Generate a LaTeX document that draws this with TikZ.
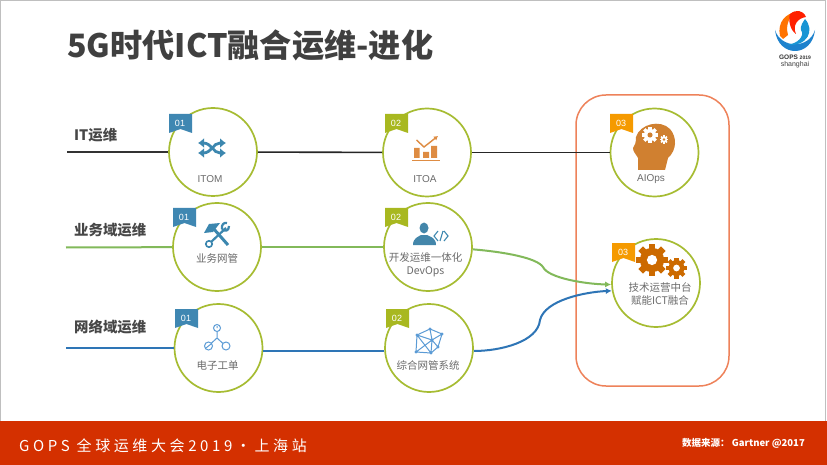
\documentclass[tikz,border=0pt]{standalone}
\usepackage{fontspec}
\setmainfont{Noto Sans CJK SC}
\newfontfamily\latinfont{Liberation Sans}
\usetikzlibrary{arrows.meta}
\definecolor{bandred}{RGB}{212, 48, 0}
\definecolor{ringgreen}{RGB}{166, 188, 50}
\definecolor{flagblue}{RGB}{63, 135, 178}
\definecolor{flaggreen}{RGB}{168, 184, 32}
\definecolor{flagorange}{RGB}{245, 154, 0}
\definecolor{lineblue}{RGB}{46, 117, 182}
\definecolor{linegreen}{RGB}{130, 185, 90}
\definecolor{iconblue}{RGB}{60, 135, 175}
\definecolor{iconlight}{RGB}{91, 155, 213}
\definecolor{iconorange}{RGB}{222, 140, 67}
\definecolor{headorange}{RGB}{208, 128, 48}
\definecolor{gearorange}{RGB}{204, 106, 0}
\definecolor{framered}{RGB}{238, 130, 90}
\definecolor{logoblue}{RGB}{30, 130, 205}
\tikzset{
  stage/.style={circle, draw=ringgreen, line width=1.7pt, fill=white, minimum size=88pt, inner sep=0pt},
  rowlabel/.style={anchor=west, inner sep=0pt, font=\bfseries\fontsize{14.4}{16}\selectfont, text=black!72},
  tag/.style={font=\fontsize{10.5}{13.5}\selectfont, text=black!58, align=center, inner sep=0pt},
  latintag/.style={tag, font=\latinfont\fontsize{10}{12}\selectfont},
  flagnum/.style={font=\latinfont\fontsize{9}{10}\selectfont, text=white, inner sep=0pt},
  rowline/.style={line width=2pt}
}
% flag: name, left x, top y, colour, number
\newcommand{\flagmark}[5]{
  \fill[#4] (#2,#3) -- (#2+23,#3) -- (#2+23,#3+19) -- (#2+11.5,#3+15) -- (#2,#3+19) -- cycle;
  \node[flagnum] (#1) at (#2+11,#3+9) {#5};
}
% gear: x, y, radius, tooth colour, hole colour
\newcommand{\gearicon}[5]{
  \fill[#4] (#1,#2) circle (#3*0.76);
  \foreach \a in {0,45,...,315}
    \fill[#4, rotate around={\a:(#1,#2)}] (#1-#3*0.2,#2-#3) rectangle (#1+#3*0.2,#2);
  \fill[#5] (#1,#2) circle (#3*0.32);
}
\begin{document}
\begin{tikzpicture}[x=1pt,y=-1pt]
  \useasboundingbox (0,0) rectangle (827,465);
  \fill[white] (0,0) rectangle (827,465);
  % Page edge and band
  \draw[black!25, line width=1pt] (0.5,465) -- (0.5,0.5) -- (825.5,0.5) -- (825.5,421);
  \fill[bandred] (0,421) rectangle (827,465);
  \node[anchor=west, inner sep=0pt, text=white, font=\fontsize{15}{16}\selectfont] (bandtext) at (19,446) {\addfontfeature{LetterSpace=24}GOPS 全球运维大会2019·上海站};
  \node[anchor=east, inner sep=0pt, text=white, font=\bfseries\fontsize{9.5}{11}\selectfont] (source) at (805,443) {数据来源： Gartner @2017};
  % Title
  \node[anchor=west, inner sep=0pt, text=black!75, font=\bfseries\fontsize{32.2}{36}\selectfont] (title) at (67,45) {5G时代ICT融合运维-进化};
  % Logo
  \fill[logoblue] (775,30) .. controls (778,58) and (812,58) .. (815,30) .. controls (809,49) and (781,49) .. cycle;
  \fill[orange!90!red] (780,36) .. controls (777,22) and (786,13) .. (797,12) .. controls (790,15) and (785,24) .. (788,35) -- (783,39) -- cycle;
  \fill[red!75!orange] (790,14) .. controls (796,9) and (803,10) .. (806,17) .. controls (798,18) and (792,25) .. (796,34) .. controls (790,30) and (788,20) .. cycle;
  \fill[logoblue!85!cyan] (805,19) .. controls (815,30) and (808,47) .. (786,45) .. controls (798,44) and (805,36) .. (801,30) .. controls (800,26) and (803,22) .. cycle;
  \node[inner sep=0pt, font=\latinfont\bfseries\fontsize{6.5}{7}\selectfont, text=black!80] (logotop) at (795,57) {GOPS \fontsize{5}{5}\selectfont 2019};
  \node[inner sep=0pt, font=\latinfont\fontsize{7}{7}\selectfont, text=black!75] (logocity) at (795,64.5) {shanghai};
  % Fusion frame
  \draw[framered, line width=1.5pt, rounded corners=30pt] (576,95) rectangle (729,386);
  % Row labels
  \node[rowlabel] (itlabel) at (74,135) {IT运维};
  \node[rowlabel] (bizlabel) at (74,230) {业务域运维};
  \node[rowlabel] (netlabel) at (74,327) {网络域运维};
  \coordinate (itstart) at (67,152);
  \coordinate (bizstart) at (66,247.5);
  \coordinate (netstart) at (66,348);
  % Stages
  \node[stage] (itom) at (213,152) {};
  \node[stage] (itoa) at (427,152.5) {};
  \node[stage] (aiops) at (654.5,152.5) {};
  \node[stage] (bizmon) at (217,247) {};
  \node[stage] (devops) at (428,247) {};
  \node[stage] (netorder) at (218.5,348) {};
  \node[stage] (netmon) at (429,348) {};
  \node[stage] (platform) at (656,283) {};
  % Black row
  \draw[rowline, black!80] (itstart) -- (itom);
  \draw[line width=1.6pt, black!85] (itom) -- (itoa);
  \draw[line width=1.6pt, black!85] (itoa) -- (aiops);
  % Green row
  \draw[rowline, linegreen] (bizstart) -- (bizmon);
  \draw[rowline, linegreen] (bizmon) -- (devops);
  \draw[rowline, linegreen, -{Latex[length=6pt,width=6pt]}] (devops.-3) .. controls (505,252) and (537,258) .. (543,267) .. controls (548,278) and (585,284) .. (platform.182);
  % Blue row
  \draw[rowline, lineblue] (netstart) -- (netorder);
  \draw[rowline, lineblue] ([yshift=-3pt]netorder.east) -- ([yshift=-3pt]netmon.west);
  \draw[rowline, lineblue, -{Latex[length=6pt,width=6pt]}] ([yshift=-3pt]netmon.east) .. controls (500,351) and (538,342) .. (540,320) .. controls (545,300) and (585,292) .. (platform.190);
  % Flags
  \flagmark{flagitom}{169}{114}{flagblue}{01}
  \flagmark{flagbiz}{173}{208}{flagblue}{01}
  \flagmark{flagorder}{175}{309}{flagblue}{01}
  \flagmark{flagitoa}{385}{114}{flaggreen}{02}
  \flagmark{flagdev}{385}{208}{flaggreen}{02}
  \flagmark{flagnet}{386}{309}{flaggreen}{02}
  \flagmark{flagai}{610}{114}{flagorange}{03}
  \flagmark{flagplat}{612}{243}{flagorange}{03}
  % Stage texts
  \node[latintag] (itomtext) at (210,179) {ITOM};
  \node[latintag] (itoatext) at (425,179) {ITOA};
  \node[latintag] (aiopstext) at (651,179.5) {AIOps};
  \node[tag] (biztext) at (217,258.5) {业务网管};
  \node[tag] (devtext) at (425.5,265) {开发运维一体化\\DevOps};
  \node[tag] (ordertext) at (217.5,365.5) {电子工单};
  \node[tag] (nettext) at (428,365.5) {综合网管系统};
  \node[tag] (plattext) at (660,294) {技术运营中台\\赋能ICT融合};
  % Shuffle icon
  \draw[iconblue, line width=2.8pt, {Latex[length=6pt,width=10pt]}-{Latex[length=6pt,width=10pt]}] (198,143) -- (203,143) .. controls (212,143) and (213,153) .. (220,153) -- (226,153);
  \draw[iconblue, line width=2.8pt, {Latex[length=6pt,width=10pt]}-{Latex[length=6pt,width=10pt]}] (198,153) -- (203,153) .. controls (212,153) and (213,143) .. (220,143) -- (226,143);
  % Tools icon
  \draw[iconblue, line width=3pt] (213,228) -- (228,245);
  \fill[iconblue] (204,233) -- (209,224) -- (220,223) -- (213,232) -- cycle;
  \draw[iconblue, line width=2.2pt] (226,228) -- (211,242);
  \draw[iconblue, line width=1.6pt, fill=white] (209,244) circle (3.2pt);
  \draw[iconblue, line width=2.2pt] (222,229) .. controls (221,225) and (224,222) .. (227,223) (222,229) .. controls (225,232) and (229,231) .. (229,226);
  % Tree icon
  \draw[iconlight, line width=1pt] (217,331.5) -- (217,338) -- (211,343.5) (217,338) -- (223,343.5);
  \draw[iconlight, line width=1pt] (217,328) circle (3.5pt) (208.5,346) circle (4pt) (226,346) circle (4pt);
  \draw[iconlight, line width=1pt] (217,326) -- (217,328) (206,348) -- (211,344);
  % Chart icon
  \fill[iconorange] (414,148) rectangle (419.5,158) (423,152) rectangle (429,158) (431,146) rectangle (437,158);
  \draw[iconorange, line width=1pt] (412,161) -- (440,161);
  \draw[iconorange, line width=1.4pt, -{Latex[length=4pt,width=5pt]}] (416.5,140) -- (424,147) -- (438,136);
  % Person icon
  \fill[iconblue!90!gray] (424,228) ellipse (4.5pt and 5.5pt);
  \fill[iconblue!90!gray] (413,245) .. controls (413,238) and (418,237) .. (421,235) -- (427,235) .. controls (431,237) and (436,238) .. (436,245) -- cycle;
  \draw[iconblue, line width=1.1pt] (438,231) -- (434,236) -- (438,241) (444,231) -- (448,236) -- (444,241) (443,231) -- (440,241);
  % Mesh icon
  \draw[iconlight, line width=0.9pt, fill=iconlight] (430,329) circle (1pt) (442,334) circle (1pt) (417,335) circle (1pt) (432,340) circle (1pt) (438,347) circle (1pt) (416,352) circle (1pt) (431,353) circle (1pt);
  \draw[iconlight, line width=1pt] (430,329) -- (442,334) -- (438,347) -- (431,353) -- (416,352) -- (417,335) -- cycle (430,329) -- (432,340) -- (442,334) (432,340) -- (438,347) (432,340) -- (431,353) (432,340) -- (416,352) (417,335) -- (432,340) (417,335) -- (431,353);
  % Head icon
  \fill[headorange] (638,170) -- (638,158) .. controls (636,154) and (633,152) .. (633,148) .. controls (635,145) and (636,143) .. (636,137) .. controls (640,124) and (660,119) .. (670,129) .. controls (677,137) and (677,150) .. (668,158) -- (665,170) -- cycle;
  \gearicon{650}{135}{8}{white}{headorange}
  \gearicon{664}{139.5}{4.2}{white}{headorange}
  % Gears icon
  \gearicon{652}{260}{16}{gearorange}{white}
  \gearicon{676.5}{268}{10.5}{gearorange}{white}
\end{tikzpicture}
\end{document}
